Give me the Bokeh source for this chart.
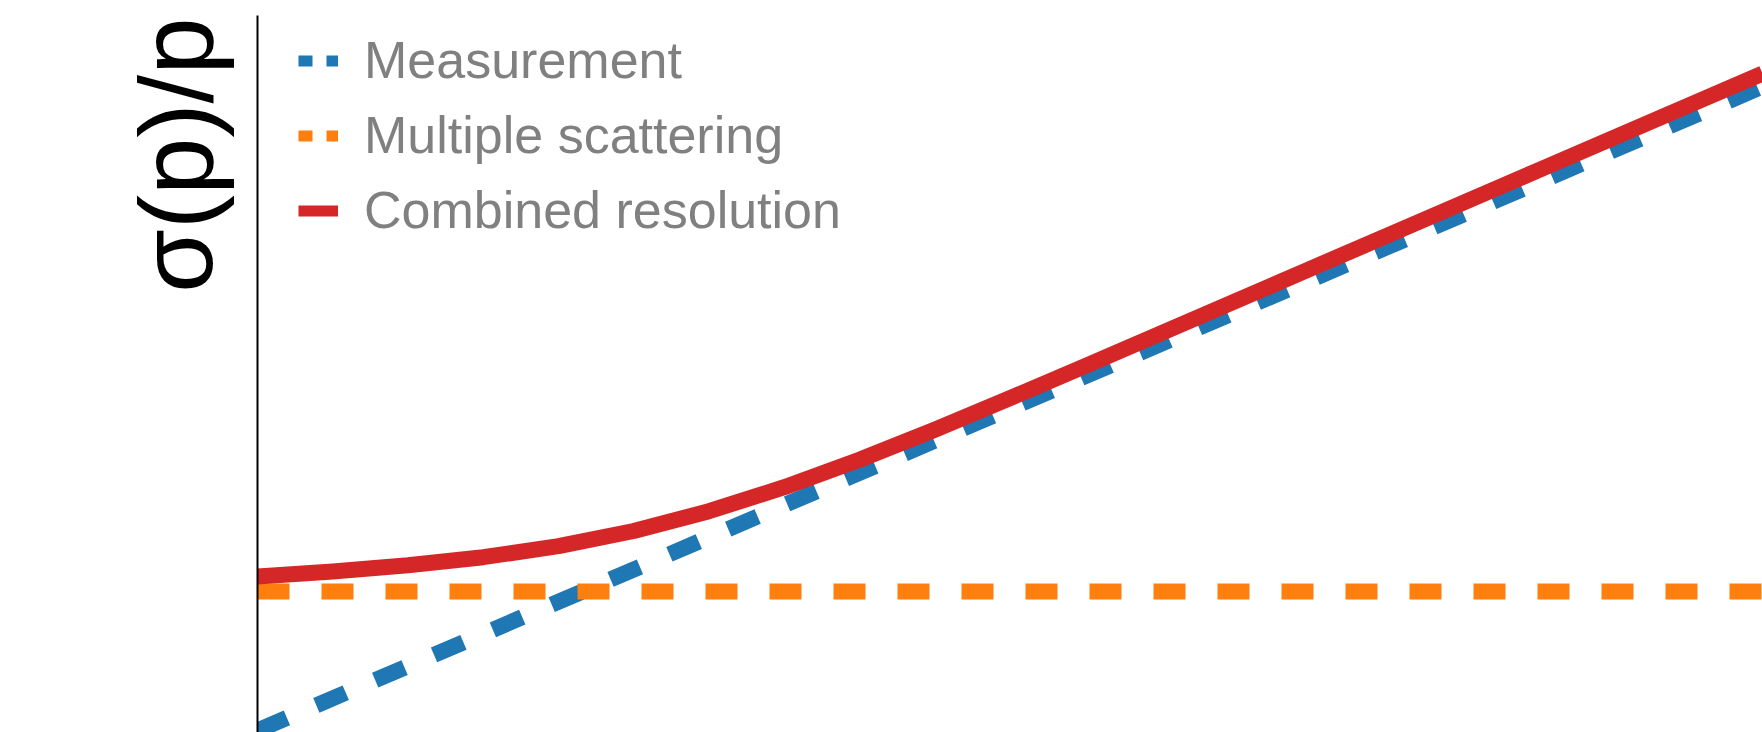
from bokeh.embed import file_html
from bokeh.models import FixedTicker, Legend, LegendItem, LinearAxis, Range1d, Title
from bokeh.plotting import figure
from bokeh.resources import INLINE

# Momentum (arbitrary units) and the contributions to the relative resolution
p_meas = [0.0, 10.0]
sigma_meas = [0.0, 6.44]

p_ms = [0.0, 10.0]
sigma_ms = [1.39, 1.39]

p_comb = [0.0, 0.5, 1.0, 1.5, 2.0, 2.5, 3.0, 3.5, 4.0, 4.5, 5.0,
          5.5, 6.0, 6.5, 7.0, 7.5, 8.0, 8.5, 9.0, 9.5, 10.0]
sigma_comb = [1.540, 1.590, 1.653, 1.733, 1.843, 1.995, 2.193, 2.433, 2.708, 3.008, 3.323,
              3.645, 3.970, 4.295, 4.620, 4.945, 5.270, 5.595, 5.920, 6.245, 6.570]

series_labels = ["Measurement", "Multiple scattering", "Combined resolution"]
series_colors = ["#1f77b4", "#ff7f0e", "#d62728"]
y_label = "σ(p)/p"

FONT = "Liberation Sans, Arial, Helvetica, sans-serif"
Y_START, Y_END = -0.02, 7.15

p = figure(
    width=1762, height=732,
    output_backend="svg", toolbar_location=None,
    x_range=Range1d(0, 10), y_range=Range1d(Y_START, Y_END),
    x_axis_type=None, y_axis_type=None,
    min_border_left=257, min_border_right=0,
    min_border_top=15, min_border_bottom=0,
    outline_line_color=None,
    background_fill_color="white", border_fill_color="white",
)

# Plain left spine
spine = LinearAxis(
    ticker=FixedTicker(ticks=[]),
    major_tick_line_color=None, minor_tick_line_color=None,
    major_tick_in=0, major_tick_out=0, minor_tick_in=0, minor_tick_out=0,
    major_label_standoff=0,
    axis_line_color="black", axis_line_width=2,
)
p.add_layout(spine, "left")

# Vertical axis title near the outer edge, aligned to the top of the spine
p.add_layout(Title(
    text=y_label, align="right", vertical_align="top", offset=2, standoff=44,
    text_font=FONT, text_font_size="103px", text_font_style="normal",
    text_color="black",
), "left")

# Curves
p.line(p_meas, sigma_meas, line_color=series_colors[0], line_width=16, line_dash="32 32")
p.line(p_ms, sigma_ms, line_color=series_colors[1], line_width=16, line_dash="32 32")
p.line(p_comb, sigma_comb, line_color=series_colors[2], line_width=16, line_join="round")

# Legend samples: thinner, hidden copies of the curves that only show in the legend
legend_styles = ["14 14", "14 14", "solid"]
series_x = [p_meas, p_ms, p_comb]
series_y = [sigma_meas, sigma_ms, sigma_comb]
items = []
for name, color, dash, xs, ys in zip(series_labels, series_colors, legend_styles, series_x, series_y):
    r = p.line(xs, ys, line_color=color, line_width=11, line_dash=dash, visible=False)
    items.append(LegendItem(label=name, renderers=[r]))

legend = Legend(
    items=items, location=(41, 484.5),
    glyph_width=40, glyph_height=75, label_height=75,
    label_standoff=26, spacing=0, padding=0, margin=0,
    border_line_color=None, background_fill_alpha=0,
    inactive_fill_alpha=0,
    label_text_font=FONT, label_text_font_size="52px",
    label_text_color="#808080",
)
p.add_layout(legend)

open("out.html", "w").write(file_html(p, INLINE))
